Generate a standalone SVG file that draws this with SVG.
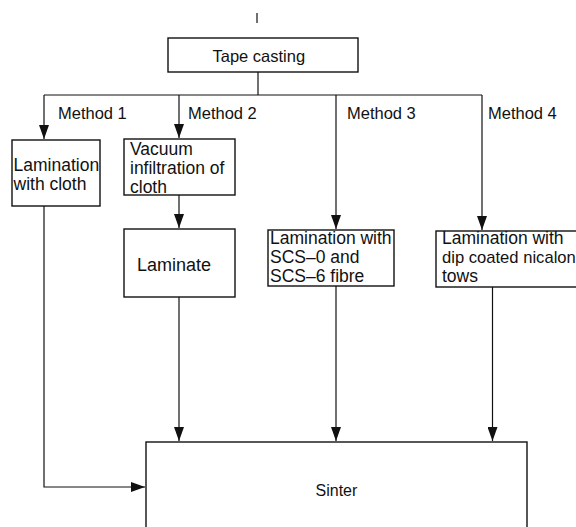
<svg xmlns="http://www.w3.org/2000/svg" width="576" height="527" viewBox="0 0 576 527">
<style>
.box{fill:#fff;stroke:#111;stroke-width:1.4}
.con{fill:none;stroke:#111;stroke-width:1.2}
text{font-family:"Liberation Sans",Arial,sans-serif;fill:#111}
.lbl{font-size:16.5px}
.bt{font-size:17.5px}
</style>
<defs>
<marker id="ah" markerUnits="userSpaceOnUse" markerWidth="14" markerHeight="10" refX="14" refY="5" orient="auto">
<path d="M0,0 L14,5 L0,10 z" fill="#111"/>
</marker>
</defs>
<g id="connectors">
<line class="con" x1="257" y1="13" x2="257" y2="23"/>
<line class="con" x1="258" y1="72" x2="258" y2="95"/>
<line class="con" x1="44" y1="95" x2="482" y2="95"/>
<line class="con" x1="44" y1="95" x2="44" y2="139" marker-end="url(#ah)"/>
<line class="con" x1="179" y1="95" x2="179" y2="138" marker-end="url(#ah)"/>
<line class="con" x1="336" y1="95" x2="336" y2="229" marker-end="url(#ah)"/>
<line class="con" x1="482" y1="95" x2="482" y2="230" marker-end="url(#ah)"/>
<line class="con" x1="179" y1="195" x2="179" y2="228" marker-end="url(#ah)"/>
<line class="con" x1="179" y1="297" x2="179" y2="441" marker-end="url(#ah)"/>
<line class="con" x1="336" y1="286" x2="336" y2="441" marker-end="url(#ah)"/>
<line class="con" x1="492.5" y1="287" x2="492.5" y2="441" marker-end="url(#ah)"/>
<polyline class="con" points="44,206 44,487 145,487" marker-end="url(#ah)"/>
</g>
<g id="tape">
<rect class="box" x="168" y="38" width="190" height="34"/>
<text class="lbl" x="212.5" y="62">Tape casting</text>
</g>
<g id="labels">
<text class="lbl" x="58" y="119">Method 1</text>
<text class="lbl" x="188" y="119">Method 2</text>
<text class="lbl" x="347" y="119">Method 3</text>
<text class="lbl" x="488" y="119">Method 4</text>
</g>
<g id="m1">
<rect class="box" x="12" y="140" width="88" height="66"/>
<text class="bt" x="13.5" y="171">Lamination</text>
<text class="bt" x="13.5" y="190">with cloth</text>
</g>
<g id="vacuum">
<rect class="box" x="124" y="139" width="111" height="56"/>
<text class="bt" x="130" y="155">Vacuum</text>
<text class="bt" x="130" y="174">infiltration of</text>
<text class="bt" x="130" y="193">cloth</text>
</g>
<g id="laminate">
<rect class="box" x="124" y="229" width="111" height="68"/>
<text class="bt" x="137" y="271" style="font-size:18px">Laminate</text>
</g>
<g id="m3">
<rect class="box" x="268" y="230" width="126" height="56"/>
<text class="bt" x="270" y="244">Lamination with</text>
<text class="bt" x="270" y="263">SCS–0 and</text>
<text class="bt" x="270" y="282">SCS–6 fibre</text>
</g>
<g id="m4">
<rect class="box" x="436" y="231" width="150" height="56"/>
<text class="bt" x="442" y="244">Lamination with</text>
<text class="bt" x="442" y="263" style="font-size:16.6px">dip coated nicalon</text>
<text class="bt" x="442" y="282">tows</text>
</g>
<g id="sinter">
<rect class="box" x="146" y="442" width="381" height="100"/>
<text class="lbl" x="315.5" y="496" style="font-size:16px">Sinter</text>
</g>
</svg>
